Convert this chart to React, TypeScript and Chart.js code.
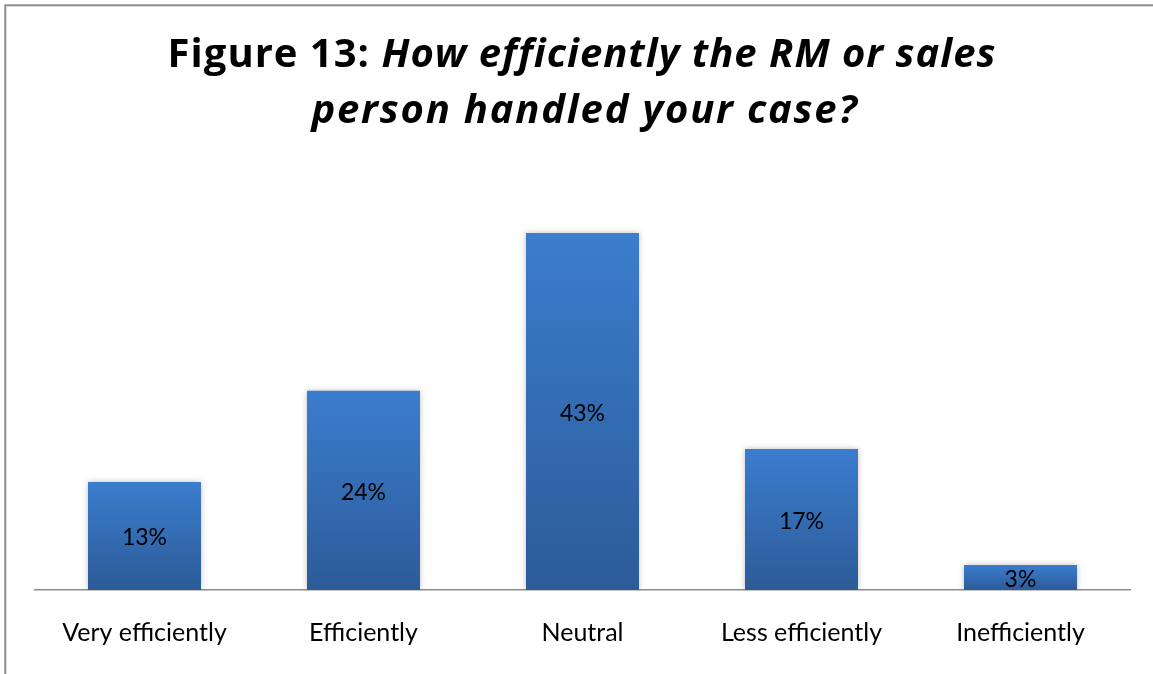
import React, { useEffect, useRef } from "react";
import { Chart, registerables } from "chart.js";

Chart.register(...registerables);

const categories = ["Very efficiently", "Efficiently", "Neutral", "Less efficiently", "Inefficiently"];
const values = [13, 24, 43, 17, 3];
const valueLabels = ["13%", "24%", "43%", "17%", "3%"];
const titlePrefix = "Figure 13: ";
const titleLine1 = "How efficiently the RM or sales";
const titleLine2 = "person handled your case?";

const FONT = "Lato, 'Open Sans', sans-serif";
const TITLE_FONT = "'Open Sans', Lato, sans-serif";

export default function App() {
  const ref = useRef<HTMLCanvasElement | null>(null);

  useEffect(() => {
    document.body.style.margin = "0";
    const canvas = ref.current;
    if (!canvas) return;

    const framePlugin = {
      id: "frame",
      beforeDraw(chart: any) {
        const ctx = chart.ctx;
        ctx.save();
        ctx.fillStyle = "#ffffff";
        ctx.fillRect(0, 0, chart.width, chart.height);
        ctx.strokeStyle = "#8c8c8c";
        ctx.lineWidth = 2;
        ctx.strokeRect(5.3, 5.3, chart.width + 50, chart.height + 50);
        // title
        ctx.fillStyle = "#000000";
        ctx.textBaseline = "alphabetic";
        ctx.textAlign = "left";
        const size = 40;
        const fBold = `bold ${size}px ${TITLE_FONT}`;
        const fBoldIt = `italic bold ${size}px ${TITLE_FONT}`;
        (ctx as any).letterSpacing = "1px";
        ctx.font = fBold;
        const w1 = ctx.measureText(titlePrefix).width;
        ctx.font = fBoldIt;
        const w2 = ctx.measureText(titleLine1).width;
        const cx = 582;
        const x = cx - (w1 + w2) / 2;
        ctx.font = fBold;
        ctx.fillText(titlePrefix, x, 67);
        ctx.font = fBoldIt;
        ctx.fillText(titleLine1, x + w1, 67);
        (ctx as any).letterSpacing = "1.8px";
        ctx.font = fBoldIt;
        const w3 = ctx.measureText(titleLine2).width;
        ctx.fillText(titleLine2, cx + 3 - w3 / 2, 123);
        (ctx as any).letterSpacing = "0px";
        ctx.restore();
      },
      beforeDatasetsDraw(chart: any) {
        const ctx = chart.ctx;
        ctx.save();
        ctx.shadowColor = "rgba(0,0,0,0.25)";
        ctx.shadowBlur = 6;
        ctx.shadowOffsetX = 0;
        ctx.shadowOffsetY = 0;
      },
      afterDatasetsDraw(chart: any) {
        const ctx = chart.ctx;
        ctx.restore();
        ctx.save();
        ctx.fillStyle = "#000000";
        ctx.font = `23px ${FONT}`;
        ctx.textAlign = "center";
        ctx.textBaseline = "middle";
        const meta = chart.getDatasetMeta(0);
        meta.data.forEach((bar: any, i: number) => {
          const p = bar.getProps(["x", "y", "base"], true);
          ctx.fillText(valueLabels[i], p.x, (p.y + p.base) / 2 + 2);
        });
        ctx.restore();
      },
    };

    const chart = new Chart(canvas, {
      type: "bar",
      data: {
        labels: categories,
        datasets: [
          {
            data: values,
            backgroundColor: (c: any) => {
              const ch = c.chart;
              const ys = ch.scales?.y;
              if (!ys || c.parsed == null) return "#3a7acb";
              const top = ys.getPixelForValue(c.parsed.y);
              const bottom = ys.getPixelForValue(0);
              if (!isFinite(top) || !isFinite(bottom) || top === bottom) return "#3a7acb";
              const g = ch.ctx.createLinearGradient(0, top, 0, bottom);
              g.addColorStop(0, "#3b7dce");
              g.addColorStop(1, "#2c5b98");
              return g;
            },
            borderWidth: 0,
            categoryPercentage: 1,
            barPercentage: 0.516,
          },
        ],
      },
      options: {
        responsive: false,
        animation: false,
        layout: { padding: { left: 35, right: 23, top: 175, bottom: 0 } },
        plugins: {
          legend: { display: false },
          title: { display: false },
          tooltip: { enabled: false },
        },
        scales: {
          y: { display: false, min: 0, max: 50 },
          x: {
            grid: { display: false, drawTicks: false },
            border: { display: true, color: "#8c8c8c", width: 1.5 },
            ticks: {
              color: "#000000",
              font: { family: FONT, size: 25 },
              padding: 28,
              maxRotation: 0,
              autoSkip: false,
            },
            afterFit: (s: any) => {
              s.height = 84;
            },
          },
        },
      },
      plugins: [framePlugin],
    });

    return () => chart.destroy();
  }, []);

  return <canvas ref={ref} width={1153} height={674} style={{ display: "block" }} />;
}
